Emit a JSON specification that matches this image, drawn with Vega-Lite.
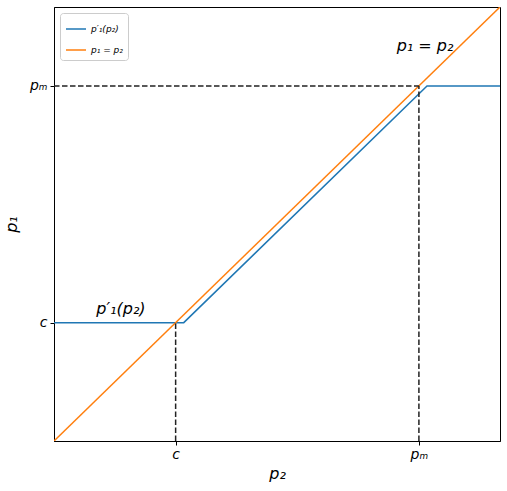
{
  "$schema": "https://vega.github.io/schema/vega-lite/v6.json",
  "autosize": {"type": "none"},
  "padding": {"left": 54, "top": 7, "right": 7, "bottom": 50},
  "width": 446,
  "height": 434,
  "config": {
    "view": {"stroke": "black", "strokeWidth": 1},
    "font": "DejaVu Sans",
    "axis": {
      "grid": false,
      "domainColor": "black",
      "tickColor": "black",
      "labelColor": "black",
      "titleColor": "black",
      "tickSize": 4,
      "labelFont": "DejaVu Sans",
      "labelFontStyle": "italic",
      "labelFontSize": 14,
      "titleFont": "DejaVu Sans",
      "titleFontStyle": "italic",
      "titleFontWeight": "normal",
      "titleFontSize": 16
    }
  },
  "layer": [
    {
      "data": {"values": [
        {"series": "p′₁(p₂)", "p2": 0.0, "p1": 0.3, "ord": 1},
        {"series": "p′₁(p₂)", "p2": 0.32, "p1": 0.3, "ord": 2},
        {"series": "p′₁(p₂)", "p2": 0.92, "p1": 0.9, "ord": 3},
        {"series": "p′₁(p₂)", "p2": 1.1, "p1": 0.9, "ord": 4},
        {"series": "p₁ = p₂", "p2": 0.0, "p1": 0.0, "ord": 1},
        {"series": "p₁ = p₂", "p2": 1.1, "p1": 1.1, "ord": 2}
      ]},
      "mark": {"type": "line", "strokeWidth": 1.5, "clip": true},
      "encoding": {
        "x": {"field": "p2", "type": "quantitative", "scale": {"domain": [0, 1.1], "nice": false, "zero": false},
              "axis": {"values": [0.3, 0.9], "labelExpr": "datum.value < 0.5 ? 'c' : 'pₘ'", "title": "p₂", "labelPadding": 2, "titlePadding": 4}},
        "y": {"field": "p1", "type": "quantitative", "scale": {"domain": [0, 1.1], "nice": false, "zero": false},
              "axis": {"values": [0.3, 0.9], "labelExpr": "datum.value < 0.5 ? 'c' : 'pₘ'", "title": "p₁", "labelPadding": 3, "titlePadding": 10}},
        "color": {"field": "series", "type": "nominal",
                  "scale": {"domain": ["p′₁(p₂)", "p₁ = p₂"], "range": ["#1f77b4", "#ff7f0e"]},
                  "legend": {"title": null, "orient": "top-left", "offset": 6, "symbolType": "stroke", "symbolSize": 400,
                             "symbolStrokeWidth": 1.5, "labelFontSize": 9, "labelFont": "DejaVu Sans", "labelFontStyle": "italic",
                             "fillColor": "white", "strokeColor": "#cccccc", "cornerRadius": 3, "padding": 5, "rowPadding": 5, "labelColor": "black"}},
        "order": {"field": "ord", "type": "quantitative"}
      }
    },
    {
      "data": {"values": [
        {"xa": 0.3, "ya": 0.0, "xb": 0.3, "yb": 0.3},
        {"xa": 0.0, "ya": 0.9, "xb": 0.9, "yb": 0.9},
        {"xa": 0.9, "ya": 0.0, "xb": 0.9, "yb": 0.9}
      ]},
      "mark": {"type": "rule", "color": "#222222", "strokeWidth": 1.5, "strokeDash": [5.5, 2.5]},
      "encoding": {
        "x": {"field": "xa", "type": "quantitative"},
        "y": {"field": "ya", "type": "quantitative"},
        "x2": {"field": "xb"},
        "y2": {"field": "yb"}
      }
    },
    {
      "data": {"values": [
        {"label": "p′₁(p₂)", "tx": 0.165, "ty": 0.335},
        {"label": "p₁ = p₂", "tx": 0.915, "ty": 1.0}
      ]},
      "mark": {"type": "text", "fontSize": 16, "fontStyle": "italic", "font": "DejaVu Sans", "color": "black", "align": "center", "baseline": "middle"},
      "encoding": {
        "x": {"field": "tx", "type": "quantitative"},
        "y": {"field": "ty", "type": "quantitative"},
        "text": {"field": "label"}
      }
    }
  ]
}
